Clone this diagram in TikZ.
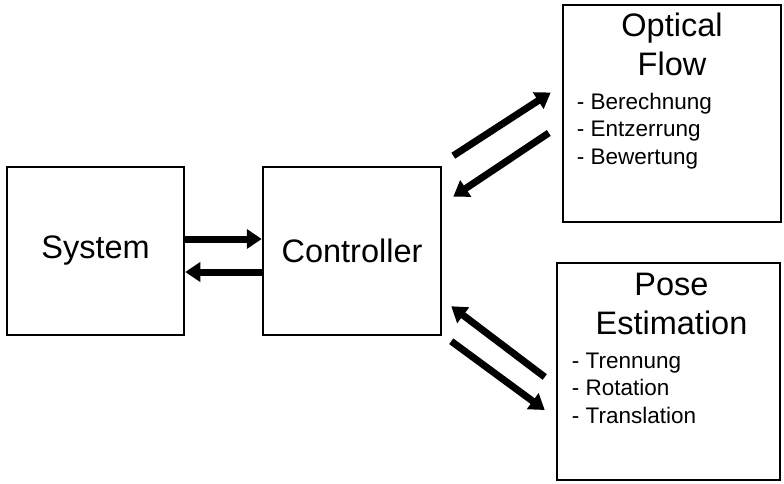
\documentclass[tikz,border=0pt]{standalone}
\usepackage{fontspec}
\setmainfont{Liberation Sans}
\usetikzlibrary{arrows.meta,positioning,calc}

\begin{document}
\begin{tikzpicture}[x=1pt, y=-1pt,
  box/.style={draw, line width=2.5pt, inner sep=0pt},
  title/.style={font=\fontsize{32.5}{39}\selectfont, align=center, inner sep=0pt},
  items/.style={font=\fontsize{22.5}{27.5}\selectfont, align=left, inner sep=0pt},
  bigarrow/.style={line width=7pt, -{Triangle[length=15pt, width=19pt]}}]
\useasboundingbox (0,0) rectangle (784,483);

% System and controller
\node[box, title, minimum width=177pt, minimum height=168pt] (sys) at (95.5,251) {System};
\node[box, title, minimum width=178pt, minimum height=168pt] (ctrl) at (352,251) {Controller};

% Optical flow block
\node[box, minimum width=218pt, minimum height=217pt] (flow) at (672,113.5) {};
\node[title, below=9pt of flow.north] (flowtitle) {Optical\\Flow};
\node[items, below right=89pt and 15pt of flow.north west] (flowitems) {- Berechnung\\- Entzerrung\\- Bewertung};

% Pose estimation block
\node[box, minimum width=223pt, minimum height=217pt] (pose) at (668.5,371.5) {};
\node[title, below=11pt of pose.north, xshift=3pt] (posetitle) {Pose\\Estimation};
\node[items, below right=91pt and 16pt of pose.north west] (poseitems) {- Trennung\\- Rotation\\- Translation};

% Arrows
\draw[bigarrow] ([yshift=12pt]sys.east) -- ([yshift=12pt]ctrl.west);
\draw[bigarrow] ([yshift=-21pt]ctrl.west) -- ([yshift=-21pt]sys.east);
\draw[bigarrow] ($(ctrl.north east)+(11,-10)$) -- ($(flow.west)+(-11,-21)$);
\draw[bigarrow] ($(flow.west)+(-13,19.5)$) -- ($(ctrl.north east)+(11,31)$);
\draw[bigarrow] ($(pose.west)+(-11,5.5)$) -- ($(ctrl.south east)+(9,-30)$);
\draw[bigarrow] ($(ctrl.south east)+(9,5)$) -- ($(pose.west)+(-11,38.5)$);
\end{tikzpicture}
\end{document}
